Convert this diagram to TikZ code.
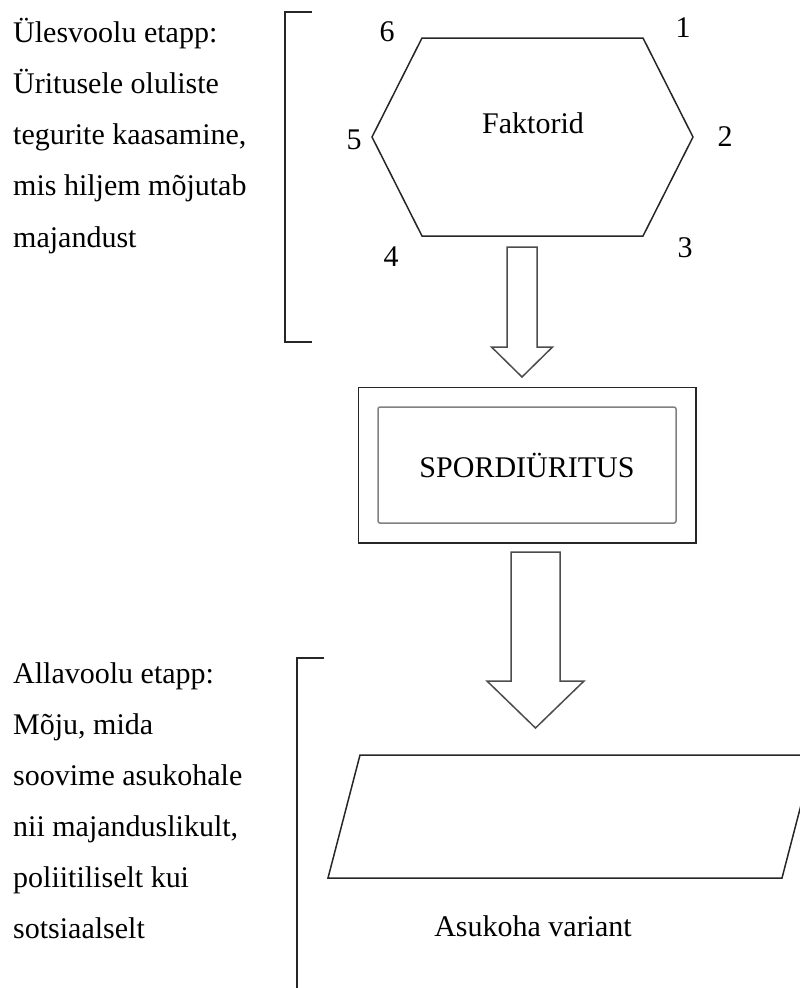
\documentclass[tikz,border=0pt]{standalone}
\usepackage{fontspec}
\setmainfont{Liberation Serif}
\usetikzlibrary{calc,fit}

\tikzset{
  plainline/.style={line width=1.5pt, black!85},
  arrowline/.style={line width=1.5pt, black!70, line join=miter},
  lefttext/.style={anchor=base west, inner sep=0pt},
  eventbox/.style={draw=black!50, line width=1.5pt, rounded corners=2pt,
    minimum width=298, minimum height=116}
}

% hollow block arrow: top, tip, shaft half width, head half width, head length
\newcommand{\hollowarrow}[5]{%
  \draw[arrowline] ($(#1)+(-#3,0)$) -- ($(#2)+(-#3,-#5)$) -- ($(#2)+(-#4,-#5)$)
    -- (#2) -- ($(#2)+(#4,-#5)$) -- ($(#2)+(#3,-#5)$) -- ($(#1)+(#3,0)$) -- cycle;}

\begin{document}
\begin{tikzpicture}[x=1pt,y=-1pt,
    every node/.style={font=\fontsize{30}{36}\selectfont}]
  \clip (0,0) rectangle (800,988);

  % upstream stage
  \foreach \txt [count=\i] in {Ülesvoolu etapp:, Üritusele oluliste,
      {tegurite kaasamine,}, mis hiljem mõjutab, majandust}
    \node[lefttext] (up\i) at (13,{42+51.25*(\i-1)}) {\txt};
  \draw[plainline] (312,12) -- (285,12) -- (285,342) -- (312,342);

  % factors
  \draw[plainline] (422,38) -- (643,38) -- (693,137) -- (643,236)
    -- (422,236) -- (372,137) -- cycle;
  \node (faktorid) at (533,123) {Faktorid};
  \foreach \n/\x/\y in {1/683/28, 2/725/137, 3/685/248,
      4/391/257, 5/354/140, 6/387/32}
    \node (c\n) at (\x,\y) {\n};

  \coordinate (a1top) at (522,247);
  \coordinate (a1tip) at (522,377);
  \hollowarrow{a1top}{a1tip}{15}{30.5}{30}

  % event
  \node[eventbox] (sport) at (527,465) {SPORDIÜRITUS};
  \node[draw, plainline, fit=(sport), inner sep=19pt] (sportframe) {};

  \coordinate (a2top) at (535.5,552);
  \coordinate (a2tip) at (535.5,728);
  \hollowarrow{a2top}{a2tip}{24.5}{48.5}{47}

  % downstream stage
  \draw[plainline] (360,755) -- (814,755) -- (782,878) -- (328,878) -- cycle;
  \node (variant) at (533,926) {Asukoha variant};
  \draw[plainline] (324,658) -- (297,658) -- (297,990);
  \foreach \txt [count=\i] in {Allavoolu etapp:, {Mõju, mida},
      soovime asukohale, {nii majanduslikult,}, poliitiliselt kui, sotsiaalselt}
    \node[lefttext] (down\i) at (13,{683+51*(\i-1)}) {\txt};
\end{tikzpicture}
\end{document}
